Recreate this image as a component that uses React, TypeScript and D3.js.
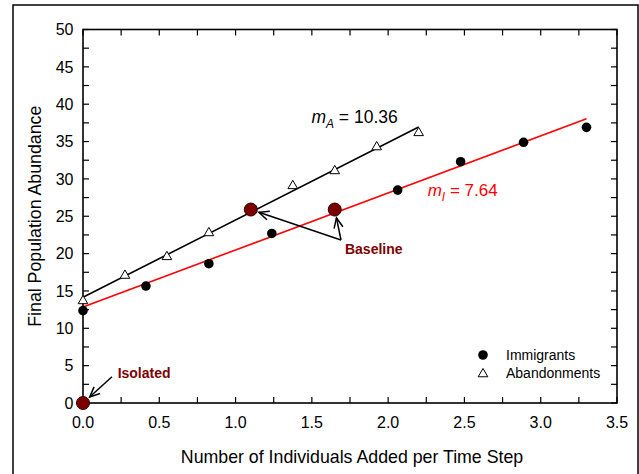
import * as d3 from "d3";

const xTicks = [0, 0.5, 1, 1.5, 2, 2.5, 3, 3.5];
const yTicks = [0, 5, 10, 15, 20, 25, 30, 35, 40, 45, 50];

// Immigrants (filled circles)
const immX = [0, 0.4125, 0.825, 1.2375, 2.0625, 2.475, 2.8875, 3.3];
const immY = [12.36, 15.66, 18.65, 22.7, 28.5, 32.3, 34.9, 36.9];

// Abandonments (open triangles)
const abX = [0, 0.275, 0.55, 0.825, 1.375, 1.65, 1.925, 2.2];
const abY = [13.8, 17.2, 19.7, 22.9, 29.2, 31.2, 34.4, 36.3];

// fitted lines (endpoints)
const immFitX = [0, 3.3];
const immFitY = [12.85, 38.06];
const abFitX = [0, 2.2];
const abFitY = [14.15, 36.94];

// highlighted points
const baseX = [1.1, 1.65];
const baseY = [25.9, 25.9];
const isoX = [0];
const isoY = [0];

const W = 639;
const H = 474;
const margin = { left: 83, right: 22, top: 29.5, bottom: 71 };
const FONT = "Arial, 'Liberation Sans', sans-serif";
const DARK_RED = "#7d0000";

export default function App() {
  const x = d3.scaleLinear().domain([0, 3.5]).range([margin.left, W - margin.right]);
  const y = d3.scaleLinear().domain([0, 50]).range([H - margin.bottom, margin.top]);
  const [x0, x1] = x.range();
  const [y0, y1] = y.range();

  const line = d3.line<[number, number]>().x(d => x(d[0])).y(d => y(d[1]));
  const tri = d3.symbol().type(d3.symbolTriangle).size(40)();

  const xMinor = d3.range(0, 3.5001, 0.25);
  const yMinor = d3.range(0, 50.001, 2.5);
  const tk = 6;

  // arrow from tail to a point near a circle
  const arrow = (tx: number, ty: number, cx: number, cy: number, gap: number, key: string) => {
    const dx = tx - cx, dy = ty - cy;
    const len = Math.hypot(dx, dy);
    const ux = dx / len, uy = dy / len;
    const hx = cx + ux * gap, hy = cy + uy * gap;
    const a = 0.42, L = 11;
    const rot = (ang: number) => [
      hx + L * (ux * Math.cos(ang) - uy * Math.sin(ang)),
      hy + L * (ux * Math.sin(ang) + uy * Math.cos(ang))
    ];
    const p1 = rot(a), p2 = rot(-a);
    return (
      <g key={key} stroke="#000" strokeWidth={1.5} fill="none">
        <line x1={tx} y1={ty} x2={hx} y2={hy} />
        <polyline points={`${p1[0]},${p1[1]} ${hx},${hy} ${p2[0]},${p2[1]}`} />
      </g>
    );
  };

  const tailX = x(1.691), tailY = y(21.82);

  return (
    <svg width={W} height={H} style={{ position: "absolute", left: 0, top: 0, background: "#fff" }} fontFamily={FONT}>
      <rect x={13} y={5} width={625} height={520} fill="#fff" stroke="#000" strokeWidth={1.5} />

      {/* ticks */}
      <g stroke="#000" strokeWidth={1.2}>
        {xMinor.map(v => (
          <g key={"xt" + v}>
            <line x1={x(v)} x2={x(v)} y1={y0} y2={y0 - tk} />
            <line x1={x(v)} x2={x(v)} y1={y1} y2={y1 + tk} />
          </g>
        ))}
        {yMinor.map(v => (
          <g key={"yt" + v}>
            <line x1={x0} x2={x0 + tk} y1={y(v)} y2={y(v)} />
            <line x1={x1} x2={x1 - tk} y1={y(v)} y2={y(v)} />
          </g>
        ))}
      </g>
      <rect x={x0} y={y1} width={x1 - x0} height={y0 - y1} fill="none" stroke="#000" strokeWidth={1.6} />

      {/* tick labels */}
      <g fontSize={16} fill="#000">
        {xTicks.map(v => (
          <text key={"xl" + v} x={x(v)} y={428} textAnchor="middle">{v.toFixed(1)}</text>
        ))}
        {yTicks.map(v => (
          <text key={"yl" + v} x={x0 - 9.5} y={y(v)} dy="0.36em" textAnchor="end">{v}</text>
        ))}
      </g>

      {/* axis titles */}
      <text x={(x0 + x1) / 2 + 2} y={463} textAnchor="middle" fontSize={17.75}>
        Number of Individuals Added per Time Step
      </text>
      <text transform={`translate(41,${(y0 + y1) / 2}) rotate(-90)`} textAnchor="middle" fontSize={17.75}>
        Final Population Abundance
      </text>

      {/* fit lines */}
      <path d={line(abFitX.map((v, i) => [v, abFitY[i]]) as any) || ""} stroke="#000" strokeWidth={1.6} fill="none" />
      <path d={line(immFitX.map((v, i) => [v, immFitY[i]]) as any) || ""} stroke="#ff0000" strokeWidth={1.6} fill="none" />

      {/* markers */}
      {immX.map((v, i) => (
        <circle key={"im" + i} cx={x(v)} cy={y(immY[i])} r={4.8} fill="#000" />
      ))}
      {abX.map((v, i) => (
        <path key={"ab" + i} d={tri || ""} transform={`translate(${x(v)},${y(abY[i]) + 1})`} fill="#fff" stroke="#000" strokeWidth={1} />
      ))}
      {baseX.map((v, i) => (
        <circle key={"bs" + i} cx={x(v)} cy={y(baseY[i])} r={6.5} fill={DARK_RED} stroke="#2a0000" strokeWidth={1} />
      ))}
      {isoX.map((v, i) => (
        <circle key={"is" + i} cx={x(v)} cy={y(isoY[i])} r={6.5} fill={DARK_RED} stroke="#2a0000" strokeWidth={1} />
      ))}

      {/* annotations */}
      {arrow(tailX, tailY, x(baseX[0]), y(baseY[0]), 8.5, "a1")}
      {arrow(tailX, tailY, x(baseX[1]), y(baseY[1]), 8.5, "a2")}
      {arrow(x(0.19), y(3.52), x(isoX[0]), y(isoY[0]), 9, "a3")}

      <text x={x(1.717)} y={y(20.0)} fontSize={14} fontWeight="bold" fill={DARK_RED}>Baseline</text>
      <text x={x(0.227)} y={y(3.35)} fontSize={14} fontWeight="bold" fill={DARK_RED}>Isolated</text>

      <text x={x(1.497)} y={123} fontSize={17.5} fill="#000">
        <tspan fontStyle="italic">m</tspan>
        <tspan fontStyle="italic" fontSize={12} dy={5}>A</tspan>
        <tspan dy={-5}> = 10.36</tspan>
      </text>
      <text x={x(2.259)} y={196} fontSize={17} fill="#ff0000">
        <tspan fontStyle="italic">m</tspan>
        <tspan fontStyle="italic" fontSize={12} dy={5}>I</tspan>
        <tspan dy={-5}> = 7.64</tspan>
      </text>

      {/* legend */}
      <circle cx={483} cy={355} r={4.8} fill="#000" />
      <text x={506} y={355} dy="0.35em" fontSize={14}>Immigrants</text>
      <path d={tri || ""} transform="translate(483,374)" fill="#fff" stroke="#000" strokeWidth={1} />
      <text x={506} y={373} dy="0.35em" fontSize={14}>Abandonments</text>
    </svg>
  );
}
